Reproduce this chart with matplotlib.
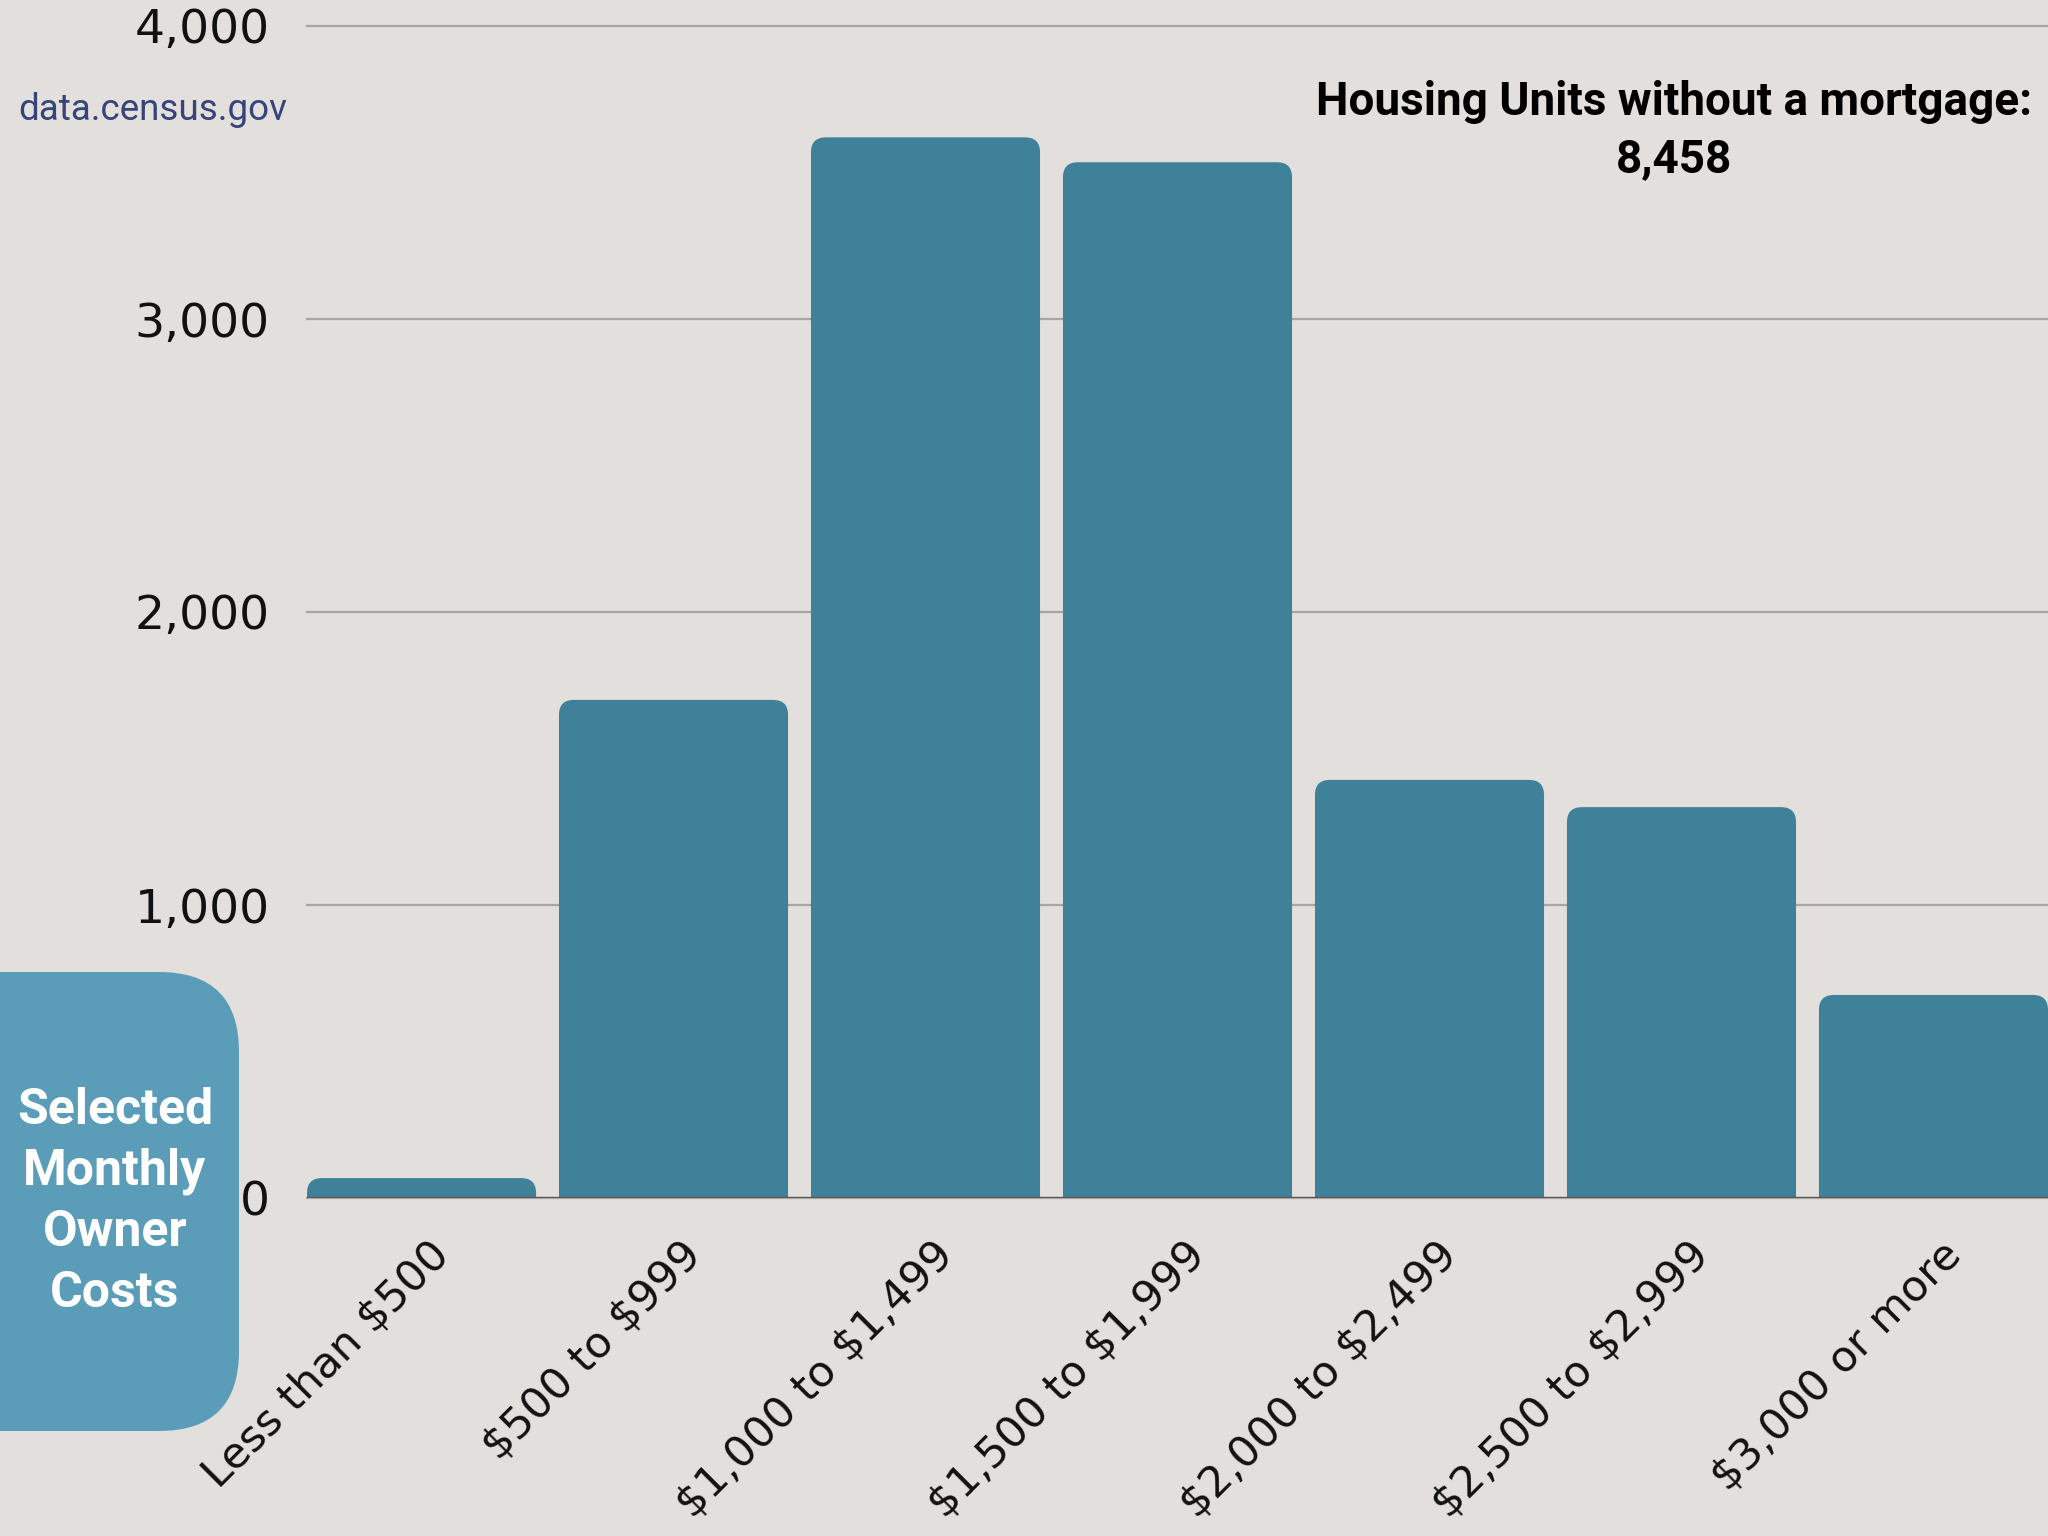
import matplotlib
matplotlib.use("Agg")
import matplotlib.pyplot as plt
from matplotlib.patches import FancyBboxPatch
from matplotlib.transforms import IdentityTransform, ScaledTranslation

categories = ['Less than \\$500', '\\$500 to \\$999', '\\$1,000 to \\$1,499', '\\$1,500 to \\$1,999',
              '\\$2,000 to \\$2,499', '\\$2,500 to \\$2,999', '\\$3,000 or more']
units = [68, 1700, 3620, 3535, 1427, 1334, 693]
yticks = [0, 1000, 2000, 3000, 4000]
ytick_labels = ['0', '1,000', '2,000', '3,000', '4,000']

bg = '#e3dfdc'
bar_color = '#3e8199'

fig = plt.figure(figsize=(20.48, 15.36), dpi=100, facecolor=bg)
ax = fig.add_axes([307/2048, 1 - 1198/1536, 1 - 307/2048, (1198 - 26)/1536])
ax.set_facecolor(bg)

w = 0.909
x = list(range(len(categories)))
bars = ax.bar(x, units, width=w, color=bar_color)

# rounded tops: swap each bar for a rounded box that starts below zero (clipped)
px_x = 1 / 252
px_y = 1000 / 293
r = 15
for b in bars:
    b.set_visible(False)
    p = FancyBboxPatch((b.get_x(), -r * px_y * 2), b.get_width(), b.get_height() + r * px_y * 2,
                       boxstyle=f"round,pad=0,rounding_size={r * px_x}",
                       mutation_aspect=px_y / px_x, fc=bar_color, ec='none', zorder=2)
    ax.add_patch(p)

ax.set_xlim(-w/2, len(categories) - 1 + w/2)
ax.set_ylim(0, 4000)
ax.set_yticks(yticks)
ax.set_yticklabels(ytick_labels)
ax.yaxis.grid(True, color='#a9a5a2', lw=1.6)
ax.set_axisbelow(True)
for gl in ax.get_ygridlines():
    gl.set_clip_on(False)
ax.axhline(0, color='#5b5757', lw=2.4, zorder=3)

for s in ax.spines.values():
    s.set_visible(False)

ax.tick_params(axis='y', length=0, pad=27, labelsize=34, labelcolor='#111111')
ax.tick_params(axis='x', length=0, pad=36)
ax.set_xticks(x)
ax.set_xticklabels(categories, rotation=45, ha='right', va='center',
                   rotation_mode='anchor', fontsize=31, color='#111111')
off = ScaledTranslation(15/72, 0, fig.dpi_scale_trans)
for lab in ax.get_xticklabels():
    lab.set_transform(lab.get_transform() + off)

fig.text(18/2048, 1 - 110/1536, 'data.census.gov', ha='left', va='center',
         fontsize=26.5, family='Roboto', color='#35457a')
fig.text(1674/2048, 1 - 102/1536, 'Housing Units without a mortgage:', ha='center', va='center',
         fontsize=33, family='Roboto', fontweight='bold', color='black')
fig.text(1674/2048, 1 - 159/1536, '8,458', ha='center', va='center',
         fontsize=33, family='Roboto', fontweight='bold', color='black')

box = FancyBboxPatch((-150, 1536 - 1431), 150 + 239, 1431 - 972,
                     boxstyle="round,pad=0,rounding_size=80",
                     transform=IdentityTransform(), fc='#5b9db8', ec='none')
fig.patches.append(box)
fig.text(115/2048, 1 - 1202/1536, 'Selected\nMonthly\nOwner\nCosts', ha='center', va='center',
         fontsize=36, family='Roboto', fontweight='bold', color='white', linespacing=1.38)

fig.savefig('out.png', dpi=100, facecolor=bg)
